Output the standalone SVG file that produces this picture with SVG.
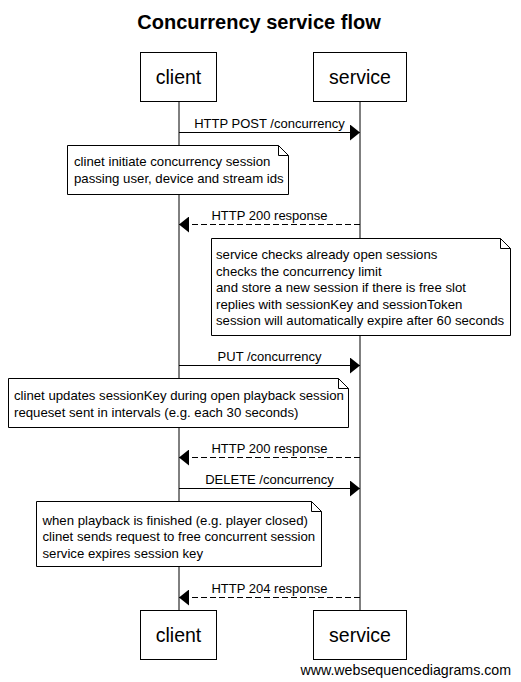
<svg xmlns="http://www.w3.org/2000/svg" width="521" height="682" viewBox="0 0 521 682">
<style>
text{font-family:"Liberation Sans",Arial,sans-serif;fill:#000}
.title{font-size:20px;font-weight:bold}
.part{font-size:19.5px}
.lbl{font-size:13px}
.ntxt{font-size:13.2px}
.foot{font-size:14.2px}
.box{fill:#fff;stroke:#000;stroke-width:1}
.life{stroke:#000;stroke-width:1}
.msg{stroke:#000;stroke-width:1;fill:none}
.dash{stroke-dasharray:6,3}
.note{fill:#fff;stroke:#000;stroke-width:1}
.ear{fill:none;stroke:#000;stroke-width:1}
</style>
<defs>
<marker id="ah" markerWidth="10" markerHeight="16" refX="10" refY="8" orient="auto" markerUnits="userSpaceOnUse">
<path d="M0,0 L10,8 L0,16 Z" fill="#000"/>
</marker>
</defs>
<rect width="521" height="682" fill="#fff"/>
<text class="title" x="259" y="29" text-anchor="middle">Concurrency service flow</text>
<g id="lifelines">
<line class="life" x1="179" y1="101" x2="179" y2="611"/>
<line class="life" x1="360" y1="101" x2="360" y2="611"/>
</g>
<g id="client">
<rect class="box" x="140.5" y="52.5" width="76" height="49"/>
<text class="part" x="178.5" y="84" text-anchor="middle">client</text>
</g>
<g id="service">
<rect class="box" x="313.5" y="52.5" width="93" height="49"/>
<text class="part" x="360" y="84" text-anchor="middle">service</text>
</g>
<g id="client-bottom">
<rect class="box" x="140.5" y="610.5" width="76" height="49"/>
<text class="part" x="178.5" y="642" text-anchor="middle">client</text>
</g>
<g id="service-bottom">
<rect class="box" x="313.5" y="610.5" width="93" height="49"/>
<text class="part" x="360" y="642" text-anchor="middle">service</text>
</g>
<g id="connectors">
<line class="msg" x1="179" y1="132.5" x2="360" y2="132.5" marker-end="url(#ah)"/>
<text class="lbl" x="269.5" y="128" text-anchor="middle">HTTP POST /concurrency</text>
<line class="msg dash" x1="360" y1="224.5" x2="179" y2="224.5" marker-end="url(#ah)"/>
<text class="lbl" x="269.5" y="220" text-anchor="middle">HTTP 200 response</text>
<line class="msg" x1="179" y1="365.5" x2="360" y2="365.5" marker-end="url(#ah)"/>
<text class="lbl" x="269.5" y="361" text-anchor="middle">PUT /concurrency</text>
<line class="msg dash" x1="360" y1="457.5" x2="179" y2="457.5" marker-end="url(#ah)"/>
<text class="lbl" x="269.5" y="453" text-anchor="middle">HTTP 200 response</text>
<line class="msg" x1="179" y1="488.5" x2="360" y2="488.5" marker-end="url(#ah)"/>
<text class="lbl" x="269.5" y="484" text-anchor="middle">DELETE /concurrency</text>
<line class="msg dash" x1="360" y1="597.5" x2="179" y2="597.5" marker-end="url(#ah)"/>
<text class="lbl" x="269.5" y="593" text-anchor="middle">HTTP 204 response</text>
</g>
<g id="note1">
<path class="note" d="M67.5,145.5 H278.5 L288.5,155.5 V194.5 H67.5 Z"/>
<path class="ear" d="M278.5,145.5 V155.5 H288.5"/>
<text class="ntxt" x="74" y="166">clinet initiate concurrency session</text>
<text class="ntxt" x="74" y="183">passing user, device and stream ids</text>
</g>
<g id="note2">
<path class="note" d="M211.5,238.5 H500.5 L510.5,248.5 V335.5 H211.5 Z"/>
<path class="ear" d="M500.5,238.5 V248.5 H510.5"/>
<text class="ntxt" x="216" y="259">service checks already open sessions</text>
<text class="ntxt" x="216" y="275.5">checks the concurrency limit</text>
<text class="ntxt" x="216" y="292">and store a new session if there is free slot</text>
<text class="ntxt" x="216" y="308.5">replies with sessionKey and sessionToken</text>
<text class="ntxt" x="216" y="325">session will automatically expire after 60 seconds</text>
</g>
<g id="note3">
<path class="note" d="M8.5,378.5 H338.5 L348.5,388.5 V427.5 H8.5 Z"/>
<path class="ear" d="M338.5,378.5 V388.5 H348.5"/>
<text class="ntxt" x="14" y="400">clinet updates sessionKey during open playback session</text>
<text class="ntxt" x="14" y="416.5">requeset sent in intervals (e.g. each 30 seconds)</text>
</g>
<g id="note4">
<path class="note" d="M36.5,501.5 H311.5 L321.5,511.5 V566.5 H36.5 Z"/>
<path class="ear" d="M311.5,501.5 V511.5 H321.5"/>
<text class="ntxt" x="42.5" y="524.5">when playback is finished (e.g. player closed)</text>
<text class="ntxt" x="42.5" y="541">clinet sends request to free concurrent session</text>
<text class="ntxt" x="42.5" y="557.5">service expires session key</text>
</g>
<text class="foot" x="511" y="675" text-anchor="end">www.websequencediagrams.com</text>
</svg>
